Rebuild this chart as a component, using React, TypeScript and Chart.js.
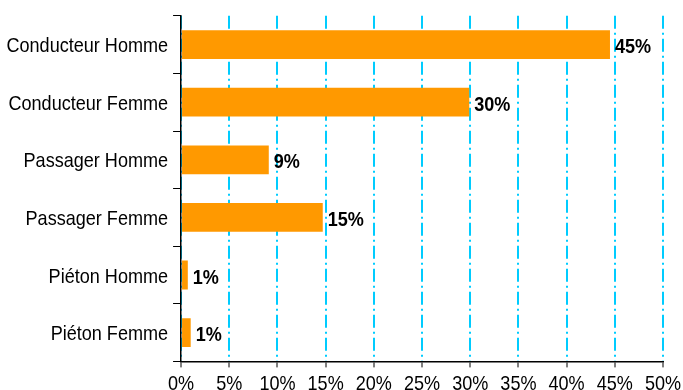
import React, { useEffect, useRef } from "react";
import { Chart, registerables } from "chart.js";

Chart.register(...registerables);

const categories = [
  "Conducteur Homme",
  "Conducteur Femme",
  "Passager Homme",
  "Passager Femme",
  "Piéton Homme",
  "Piéton Femme",
];
const values = [44.5, 29.9, 9.1, 14.7, 0.7, 1.0];
const valueLabels = ["45%", "30%", "9%", "15%", "1%", "1%"];
const xTicks = [0, 5, 10, 15, 20, 25, 30, 35, 40, 45, 50];

const FONT = "'Liberation Sans', Arial, sans-serif";
const SX = 0.86; // horizontal squeeze of the original text

function drawSqueezed(ctx: any, text: string, x: number, y: number, align: string, font: string) {
  ctx.save();
  ctx.font = font;
  const w = ctx.measureText(text).width * SX;
  let left = x;
  if (align === "right") left = x - w;
  else if (align === "center") left = x - w / 2;
  ctx.translate(left, y);
  ctx.scale(SX, 1);
  ctx.textAlign = "left";
  ctx.textBaseline = "alphabetic";
  ctx.fillStyle = "#000";
  ctx.fillText(text, 0, 0);
  ctx.restore();
}

const textPlugin = {
  id: "squeezedText",
  afterDraw(chart: any) {
    const ctx = chart.ctx;
    const xs = chart.scales.x;
    const ys = chart.scales.y;
    // y category labels
    categories.forEach((c, i) => {
      const y = ys.getPixelForValue(i);
      drawSqueezed(ctx, c, ys.right - 13, y + 7.5, "right", `21px ${FONT}`);
    });
    // x tick labels
    xTicks.forEach((v) => {
      const x = xs.getPixelForValue(v);
      drawSqueezed(ctx, `${v}%`, x, xs.top + 29, "center", `21px ${FONT}`);
    });
    // value labels
    const meta = chart.getDatasetMeta(0);
    meta.data.forEach((bar: any, i: number) => {
      drawSqueezed(ctx, valueLabels[i], bar.x + 5, bar.y + 8.5, "left", `bold 21px ${FONT}`);
    });
  },
};

export default function App() {
  const ref = useRef<HTMLCanvasElement>(null);
  useEffect(() => {
    if (!ref.current) return;
    const chart = new Chart(ref.current, {
      type: "bar",
      data: {
        labels: categories,
        datasets: [
          {
            data: values,
            backgroundColor: "#FF9900",
            borderWidth: 0,
            barPercentage: 0.5,
            categoryPercentage: 1,
          },
        ],
      },
      options: {
        indexAxis: "y",
        animation: false,
        responsive: true,
        maintainAspectRatio: false,
        layout: { padding: { top: 13, left: 2, right: 0, bottom: 0 } },
        plugins: { legend: { display: false }, tooltip: { enabled: false } },
        scales: {
          x: {
            min: 0,
            max: 50,
            afterBuildTicks(scale: any) {
              scale.ticks = xTicks.map((v) => ({ value: v }));
            },
            ticks: {
              callback: (v: any) => `${v}%`,
              color: "rgba(0,0,0,0)",
              font: { family: FONT, size: 18 },
              padding: 2,
              maxRotation: 0,
            },
            grid: {
              color: "#00CCFF",
              lineWidth: 2,
              drawTicks: true,
              tickLength: 6,
              tickColor: "#000",
              tickWidth: 1,
            },
            border: { display: true, color: "#000", width: 1.5, dash: [13, 4, 2, 4] },
          },
          y: {
            ticks: {
              color: "rgba(0,0,0,0)",
              font: { family: FONT, size: 18 },
              padding: 5,
            },
            grid: {
              offset: true,
              drawOnChartArea: false,
              drawTicks: true,
              tickLength: 8,
              color: "#000",
              tickColor: "#000",
              lineWidth: 1,
            },
            border: { display: true, color: "#000", width: 1.5 },
          },
        },
      },
      plugins: [textPlugin],
    });
    return () => chart.destroy();
  }, []);
  return (
    <div style={{ position: "absolute", left: 0, top: 0, width: 683, height: 393 }}>
      <canvas ref={ref} />
    </div>
  );
}
